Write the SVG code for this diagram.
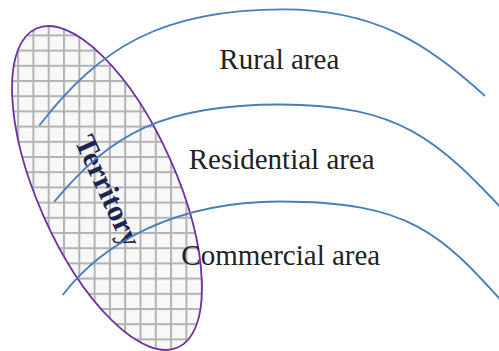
<svg xmlns="http://www.w3.org/2000/svg" width="499" height="351" viewBox="0 0 499 351">
  <style>
    .arc { fill: none; stroke: #4a7ebb; stroke-width: 1.8; }
    .lbl { font-family: "Liberation Serif", "Times New Roman", serif; font-size: 29px; fill: #222; text-anchor: middle; }
    .terr { font-family: "Liberation Serif", "Times New Roman", serif; font-size: 30px; font-weight: bold; fill: #1c2452; text-anchor: middle; }
  </style>
  <defs>
    <pattern id="grid" patternUnits="userSpaceOnUse" x="32.4" y="64.8" width="15.3" height="15.2">
      <rect width="15.3" height="15.2" fill="#f8f8f8"/>
      <rect x="0" y="0" width="2" height="15.2" fill="#b3b3b3"/>
      <rect x="0" y="0" width="15.3" height="2" fill="#b3b3b3"/>
    </pattern>
    <clipPath id="terrClip" clipPathUnits="userSpaceOnUse">
      <ellipse cx="107" cy="188" rx="174.5" ry="69.4" transform="rotate(66.1 107 188)"/>
    </clipPath>
  </defs>
  <rect width="499" height="351" fill="#ffffff"/>
  <g id="territory">
    <rect x="0" y="0" width="499" height="351" fill="url(#grid)" clip-path="url(#terrClip)"/>
    <ellipse cx="107" cy="188" rx="174.5" ry="69.4" transform="rotate(66.1 107 188)" fill="none" stroke="#7030a0" stroke-width="1.8"/>
    <text class="terr" transform="translate(99 195) rotate(65.4)">Territory</text>
  </g>
  <g id="connectors">
    <path class="arc" d="M39.3,125.5 C100.3,46.5 163,9.3 283,9.3 C373,9.3 426.1,41.8 485,96"/>
    <path class="arc" d="M54.3,201.7 C111.9,132.4 165,104.5 280,104.5 C400,104.5 437.5,140.1 506,213"/>
    <path class="arc" d="M62.7,295 C102.2,243.4 175,201.5 280,201.5 C410,201.5 441.4,234 505,304.7"/>
  </g>
  <g id="rural"><text class="lbl" x="279.3" y="69.3">Rural area</text></g>
  <g id="residential"><text class="lbl" x="281.7" y="169.3">Residential area</text></g>
  <g id="commercial"><text class="lbl" x="280.8" y="265">Commercial area</text></g>
</svg>
